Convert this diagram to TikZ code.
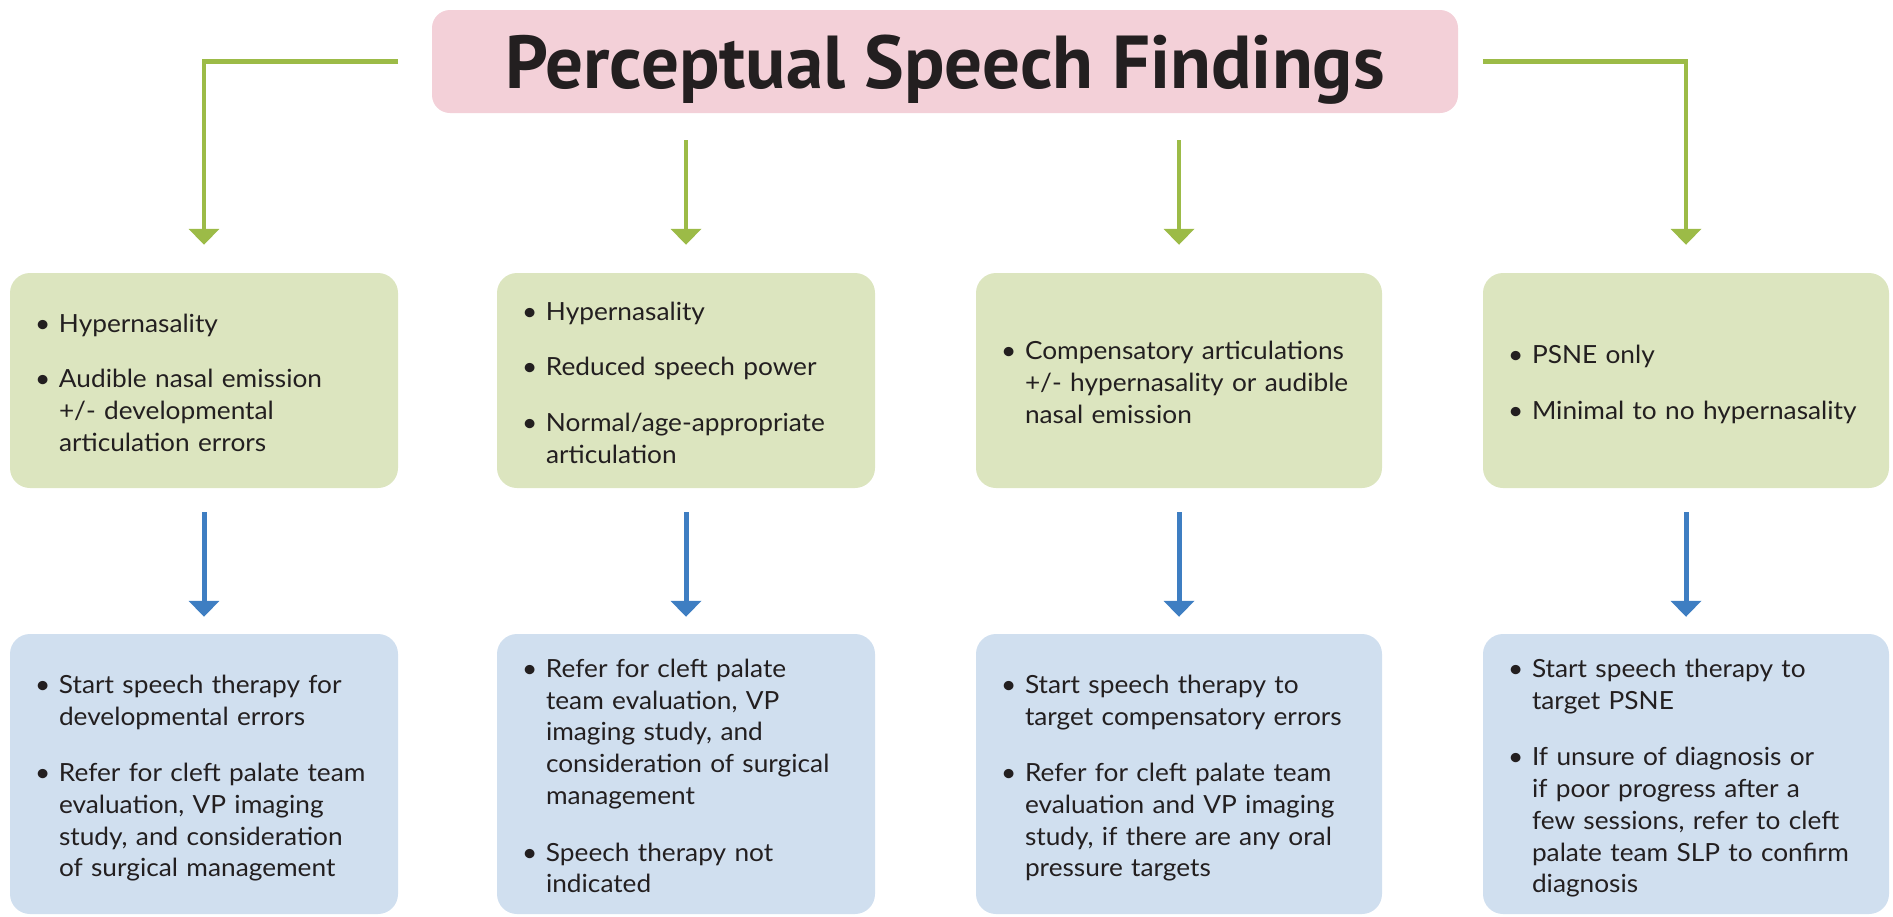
\documentclass[tikz,border=0pt]{standalone}
\usepackage{fontspec}
\setmainfont{Lato}[FakeStretch=1.05]
\newfontfamily\titlefont{PT Sans}
\usetikzlibrary{arrows.meta}

\definecolor{titlepink}{HTML}{F3D0D8}
\definecolor{boxgreen}{HTML}{DCE5BF}
\definecolor{boxblue}{HTML}{D0DFEF}
\definecolor{arrowgreen}{HTML}{9CBB47}
\definecolor{arrowblue}{HTML}{3E7EC2}
\definecolor{textdark}{HTML}{231F20}

\newcommand\bodyfont{\fontsize{25pt}{31.7pt}\selectfont}
% one bullet point, lines broken by hand
\newcommand\bitem[1]{\par\noindent\hbox to 24pt{\textbullet\hss}\begin{tabular}[t]{@{}l@{}}#1\end{tabular}\par}
\newcommand\bgap{\vspace{24pt}}

\begin{document}
\begin{tikzpicture}[x=1pt,y=-1pt,
  greenarrow/.style={draw=arrowgreen, line width=4.5pt, shorten >=28pt, -{Triangle[width=30pt,length=16pt]}},
  bluearrow/.style={draw=arrowblue, line width=5pt, shorten <=24pt, shorten >=17pt, -{Triangle[width=30pt,length=16pt]}},
  finding/.style={rounded corners=20pt, fill=boxgreen, minimum height=215pt, inner sep=0pt, text=textdark, font=\bodyfont},
  action/.style={finding, fill=boxblue, minimum height=280pt}]
\useasboundingbox (0,0) rectangle (1893,916);

% title
\node[rounded corners=18pt, fill=titlepink, minimum width=1026pt, minimum height=103pt, text=textdark,
  text height=53pt, text depth=0pt, font=\titlefont\bfseries\fontsize{75pt}{80pt}\selectfont] (title) at (945,61.5) {Perceptual Speech Findings};

% findings
\node[finding, minimum width=388pt, text width=338pt] (f1) at (204,380.5) {%
  \bitem{Hypernasality}\bgap
  \bitem{Audible nasal emission\\ +/- developmental\\ articulation errors}};
\node[finding, minimum width=378pt, text width=328pt] (f2) at (686,380.5) {%
  \bitem{Hypernasality}\bgap
  \bitem{Reduced speech power}\bgap
  \bitem{Normal/age-appropriate\\ articulation}};
\node[finding, minimum width=406pt, text width=356pt] (f3) at (1179,380.5) {%
  \bitem{Compensatory articulations\\ +/- hypernasality or audible\\ nasal emission}};
\node[finding, minimum width=406pt, text width=356pt] (f4) at (1686,380.5) {%
  \bitem{PSNE only}\bgap
  \bitem{Minimal to no hypernasality}};

% what to do
\node[action, minimum width=388pt, text width=338pt] (a1) at (204,774) {%
  \bitem{Start speech therapy for\\ developmental errors}\bgap
  \bitem{Refer for cleft palate team\\ evaluation, VP imaging\\ study, and consideration\\ of surgical management}};
\node[action, minimum width=378pt, text width=328pt] (a2) at (686,774) {%
  \bitem{Refer for cleft palate\\ team evaluation, VP\\ imaging study, and\\ consideration of surgical\\ management}\bgap
  \bitem{Speech therapy not\\ indicated}};
\node[action, minimum width=406pt, text width=356pt] (a3) at (1179,774) {%
  \bitem{Start speech therapy to\\ target compensatory errors}\bgap
  \bitem{Refer for cleft palate team\\ evaluation and VP imaging\\ study, if there are any oral\\ pressure targets}};
\node[action, minimum width=406pt, text width=356pt] (a4) at (1686,774) {%
  \bitem{Start speech therapy to\\ target PSNE}\bgap
  \bitem{If unsure of diagnosis or\\ if poor progress after a\\ few sessions, refer to cleft\\ palate team SLP to confirm\\ diagnosis}};

% green arrows
\draw[greenarrow] (f1.north east |- title.west) -| (f1.north);
\draw[greenarrow, shorten <=27pt] (title.south -| f2.north) -- (f2.north);
\draw[greenarrow, shorten <=27pt] (title.south -| f3.north) -- (f3.north);
\draw[greenarrow] (f4.north west |- title.east) -| (f4.north);

% blue arrows
\draw[bluearrow] (f1.south) -- (a1.north);
\draw[bluearrow] (f2.south) -- (a2.north);
\draw[bluearrow] (f3.south) -- (a3.north);
\draw[bluearrow] (f4.south) -- (a4.north);

\end{tikzpicture}
\end{document}
